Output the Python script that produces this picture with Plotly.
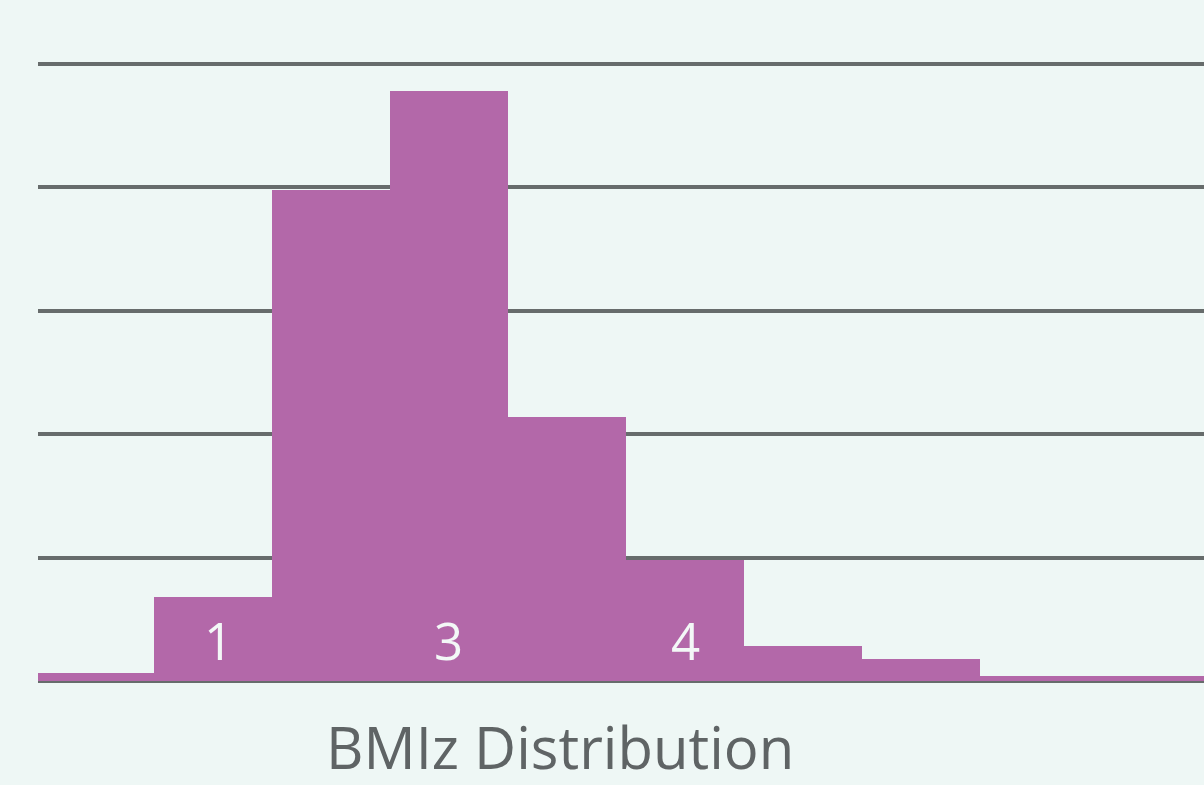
import plotly.graph_objects as go

# Data (bin index -> relative frequency, gridline units)
bins = [0, 1, 2, 3, 4, 5, 6, 7, 8, 9]
values = [0.065, 0.68, 3.98, 4.78, 2.14, 0.98, 0.284, 0.178, 0.04, 0.04]
label_bins = [1, 3, 5]
label_texts = ["1", "3", "4"]
title_text = "BMIz Distribution"

BG = "#EEF7F5"
BAR = "#B368A9"
GRID = "#676C6C"
TXT = "#5F6465"

fig = go.Figure()
fig.add_trace(go.Bar(
    x=bins, y=values, width=1,
    marker=dict(color=BAR, line=dict(width=0)),
    hoverinfo="skip",
))

for b, t in zip(label_bins, label_texts):
    fig.add_annotation(
        x=b, y=0.33, xref="x", yref="y", text=t, showarrow=False,
        font=dict(family="Open Sans", size=51, color="#F3F8F7"),
        xshift=5 if t == "1" else (-1 if t == "3" else 0),
    )

fig.add_annotation(
    x=(560 - 38) / 1166, y=(680.7 - 746) / 654, xref="paper", yref="paper",
    text=title_text, showarrow=False, xanchor="center", yanchor="middle",
    font=dict(family="Open Sans", size=58, color=TXT),
)

fig.update_layout(
    width=1204, height=785,
    margin=dict(l=38, r=0, t=27, b=104),
    paper_bgcolor=BG, plot_bgcolor=BG,
    bargap=0, showlegend=False,
    xaxis=dict(range=[-0.5 + 2 / 118, -0.5 + (1204 - 36) / 118],
               showgrid=False, showticklabels=False, zeroline=False,
               showline=False, ticks=""),
    yaxis=dict(range=[0, 654 / 123.4], dtick=1, tick0=0,
               showgrid=True, gridcolor=GRID, gridwidth=3.5,
               zeroline=True, zerolinecolor=GRID, zerolinewidth=3.5,
               showticklabels=False, showline=False, ticks=""),
)

fig.write_html(
    "out.html",
    config={"displayModeBar": False},
    post_script="document.body.style.margin='0';document.body.style.overflow='hidden';document.body.style.background='#EEF7F5';",
)
